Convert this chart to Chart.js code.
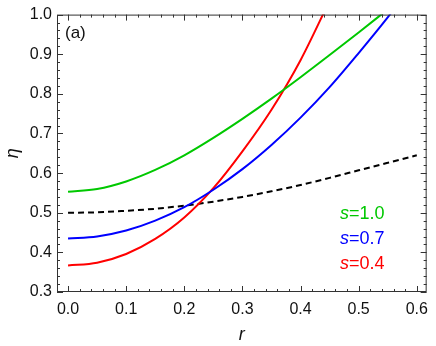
<!DOCTYPE html>
<html>
<head>
<meta charset="utf-8">
<script src="https://cdn.jsdelivr.net/npm/chart.js@4.4.1/dist/chart.umd.min.js"></script>
<style>
  html, body { margin: 0; padding: 0; background: #fff; }
  #wrap { width: 436px; height: 346px; }
</style>
</head>
<body>
<div id="wrap"><canvas id="chart" width="436" height="346"></canvas></div>
<script>
// r values shared by all curves
const rGrid = [0, 0.05, 0.1, 0.15, 0.2, 0.25, 0.3, 0.35, 0.4, 0.45, 0.5, 0.55, 0.6];

// eta (curves leave the frame at eta = 1)
const etaS10 = [0.553, 0.560, 0.579, 0.608, 0.645, 0.689, 0.737, 0.788, 0.842, 0.898, 0.955, 1.013];
const etaS07 = [0.435, 0.440, 0.455, 0.480, 0.514, 0.558, 0.610, 0.671, 0.740, 0.817, 0.903, 0.993, 1.090];
const etaS04 = [0.367, 0.374, 0.396, 0.434, 0.488, 0.562, 0.655, 0.760, 0.885, 1.035];
const etaRef = [0.500, 0.501, 0.505, 0.510, 0.518, 0.528, 0.540, 0.554, 0.570, 0.588, 0.607, 0.626, 0.645];

const seriesLabels = ["1.0", "0.7", "0.4"];
const xTicks = [0, 0.1, 0.2, 0.3, 0.4, 0.5, 0.6];
const yTicks = [0.3, 0.4, 0.5, 0.6, 0.7, 0.8, 0.9, 1.0];

const GREEN = "#00c800";
const BLUE = "#0000ff";
const RED = "#ff0000";
const FONT = "'Liberation Sans', Arial, sans-serif";

function toPoints(vals) {
  return vals.map((v, i) => ({ x: rGrid[i], y: v }));
}

function curve(label, vals, color, dash) {
  return {
    label,
    data: toPoints(vals),
    borderColor: color,
    backgroundColor: color,
    borderWidth: 2,
    borderDash: dash || [],
    pointRadius: 0,
    fill: false,
    cubicInterpolationMode: "monotone",
    clip: 0,
  };
}

// frame with inward major/minor ticks, panel tag and the s= legend
const framePlugin = {
  id: "frame",
  afterDatasetsDraw(chart) {
    const ctx = chart.ctx;
    const { left, right, top, bottom } = chart.chartArea;
    const xs = chart.scales.x;
    const ys = chart.scales.y;
    ctx.save();
    ctx.strokeStyle = "#333";
    ctx.lineWidth = 1;
    ctx.strokeRect(left + 0.5, top + 0.5, right - left - 1, bottom - top - 1);

    ctx.beginPath();
    for (let k = 0; k <= 31; k++) {
      const v = k * 0.02;
      const px = Math.round(xs.getPixelForValue(v)) + 0.5;
      if (px < left || px > right) continue;
      const len = k % 5 === 0 ? 6 : 3;
      ctx.moveTo(px, bottom); ctx.lineTo(px, bottom - len);
      ctx.moveTo(px, top); ctx.lineTo(px, top + len);
    }
    for (let k = 15; k <= 50; k++) {
      const v = k * 0.02;
      const py = Math.round(ys.getPixelForValue(v)) + 0.5;
      const len = k % 5 === 0 ? 6 : 3;
      ctx.moveTo(left, py); ctx.lineTo(left + len, py);
      ctx.moveTo(right, py); ctx.lineTo(right - len, py);
    }
    ctx.stroke();

    ctx.fillStyle = "#111";
    ctx.font = "17px " + FONT;
    ctx.textBaseline = "middle";
    ctx.textAlign = "left";
    ctx.fillText("(a)", left + 8, top + 19);

    const colors = [GREEN, BLUE, RED];
    seriesLabels.forEach((lab, i) => {
      const y = top + 199 + i * 25;
      let x = left + 283;
      ctx.fillStyle = colors[i];
      ctx.font = "italic 18px " + FONT;
      ctx.fillText("s", x, y);
      x += ctx.measureText("s").width;
      ctx.font = "18px " + FONT;
      ctx.fillText("=" + lab, x, y);
    });
    ctx.restore();
  },
};

new Chart(document.getElementById("chart"), {
  type: "line",
  data: {
    datasets: [
      curve("s=1.0", etaS10, GREEN),
      curve("s=0.7", etaS07, BLUE),
      curve("s=0.4", etaS04, RED),
      curve("reference", etaRef, "#000", [6, 4]),
    ],
  },
  options: {
    responsive: false,
    animation: false,
    devicePixelRatio: 1,
    layout: { padding: { top: 10, right: 4, left: 0, bottom: 0 } },
    plugins: { legend: { display: false }, tooltip: { enabled: false } },
    scales: {
      x: {
        type: "linear",
        min: -0.019,
        max: 0.617,
        grid: { display: false, drawTicks: false },
        border: { display: false },
        afterBuildTicks: (scale) => { scale.ticks = xTicks.map((v) => ({ value: v })); },
        afterFit: (scale) => { scale.height = 54; },
        ticks: {
          padding: 8,
          color: "#111",
          font: { family: FONT, size: 16 },
          callback: (v) => Number(v).toFixed(1),
        },
        title: {
          display: true,
          text: "r",
          color: "#111",
          font: { family: FONT, size: 18, style: "italic" },
          padding: { top: 0, bottom: 0 },
        },
      },
      y: {
        type: "linear",
        min: 0.3,
        max: 1.0,
        grid: { display: false, drawTicks: false },
        border: { display: false },
        afterBuildTicks: (scale) => { scale.ticks = yTicks.map((v) => ({ value: v })); },
        afterFit: (scale) => { scale.width = 57; },
        ticks: {
          padding: 5,
          color: "#111",
          font: { family: FONT, size: 16 },
          callback: (v) => Number(v).toFixed(1),
        },
        title: {
          display: true,
          text: "η",
          color: "#111",
          font: { family: FONT, size: 18, style: "italic" },
          padding: { top: 2, bottom: 0 },
        },
      },
    },
  },
  plugins: [framePlugin],
});
</script>
</body>
</html>
